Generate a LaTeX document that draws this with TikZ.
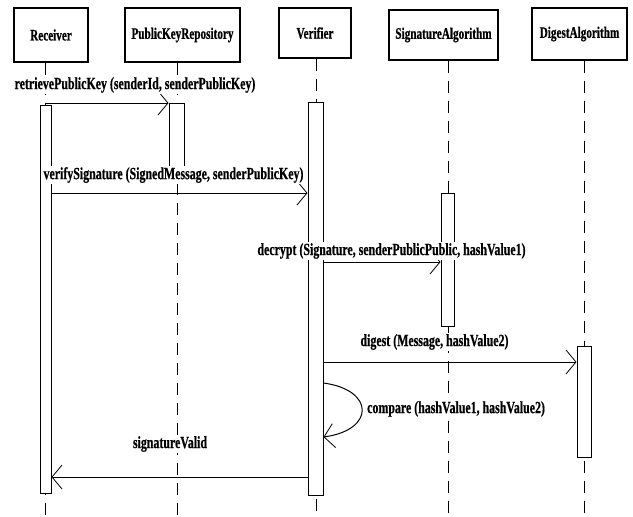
\documentclass[tikz,border=0pt]{standalone}
\usepackage{fontspec}
\setmainfont[FakeStretch=0.7, BoldFeatures={FakeBold=0.6}]{Liberation Serif}
\usetikzlibrary{arrows.meta}
\begin{document}
\begin{tikzpicture}[x=1pt,y=-1pt,
  head/.style={draw, line width=1.3pt, inner sep=0pt, font=\bfseries\fontsize{16}{18}\selectfont},
  life/.style={line width=0.9pt, dash pattern=on 12pt off 8pt},
  act/.style={draw, fill=white, line width=1pt, inner sep=0pt},
  msg/.style={line width=1pt, -{Straight Barb[length=10pt,width=24pt,line width=0.8pt]}},
  lbl/.style={fill=white, inner sep=1pt, font=\bfseries\fontsize{17}{19}\selectfont}]
\useasboundingbox (0,0) rectangle (633,517);

% heads
\node[head, minimum width=74pt, minimum height=54pt] (rcv) at (51,35) {Receiver};
\node[head, minimum width=115pt, minimum height=54pt] (pkr) at (182.5,35) {PublicKeyRepository};
\node[head, minimum width=72pt, minimum height=50pt] (ver) at (315,33) {Verifier};
\node[head, minimum width=109pt, minimum height=50pt] (sig) at (443.5,35) {SignatureAlgorithm};
\node[head, minimum width=95pt, minimum height=52pt] (dig) at (579.5,34) {DigestAlgorithm};

% lifeline ends
\coordinate (rcvE) at (45,517);
\coordinate (pkrE) at (177,517);
\coordinate (verE) at (316,517);
\coordinate (sigE) at (448,517);
\coordinate (digE) at (584,517);
\draw[life] (rcv.south -| rcvE) -- (rcvE);
\draw[life] (pkr.south -| pkrE) -- (pkrE);
\draw[life] (ver.south -| verE) -- (verE);
\draw[life] (sig.south -| sigE) -- (sigE);
\draw[life] (dig.south -| digE) -- (digE);

% activations
\node[act, minimum width=11pt, minimum height=388pt] (rA) at (45.5,299) {};
\node[act, minimum width=15pt, minimum height=67pt] (pA) at (176.5,136.5) {};
\node[act, minimum width=15pt, minimum height=393pt] (vA) at (315.5,298.5) {};
\node[act, minimum width=13pt, minimum height=133pt] (sA) at (447.5,259.5) {};
\node[act, minimum width=14pt, minimum height=111pt] (dA) at (584,401.5) {};

% message levels
\coordinate (m1) at (0,103);
\coordinate (m2) at (0,193);
\coordinate (m3) at (0,262);
\coordinate (m4) at (0,362);
\coordinate (m5a) at (0,383);
\coordinate (m5b) at (0,437);
\coordinate (m6) at (0,477);

\draw[msg] (rcvE |- m1) -- (pA.west |- m1);
\draw[line width=1pt] (pA.west |- m1) -- (pA.east |- m1);
\draw[msg] (rA.east |- m2) -- (vA.west |- m2);
\draw[msg] (vA.east |- m3) -- (sA.west |- m3);
\draw[msg] (vA.east |- m4) -- (dA.west |- m4);
\draw[msg] (vA.east |- m5a) .. controls (375,390) and (375,430) .. (vA.east |- m5b);
\draw[msg] (vA.west |- m6) -- (rA.east |- m6);

% labels
\node[lbl] (l1) at (135,85) {retrievePublicKey (senderId, senderPublicKey)};
\node[lbl] (l2) at (173.5,175) {verifySignature (SignedMessage, senderPublicKey)};
\node[lbl] (l3) at (391.5,251) {decrypt (Signature, senderPublicPublic, hashValue1)};
\node[lbl] (l4) at (434.5,342) {digest (Message, hashValue2)};
\node[lbl, anchor=west] (l5) at (366,409) {compare (hashValue1, hashValue2)};
\node[lbl] (l6) at (170,444) {signatureValid};
\end{tikzpicture}
\end{document}
